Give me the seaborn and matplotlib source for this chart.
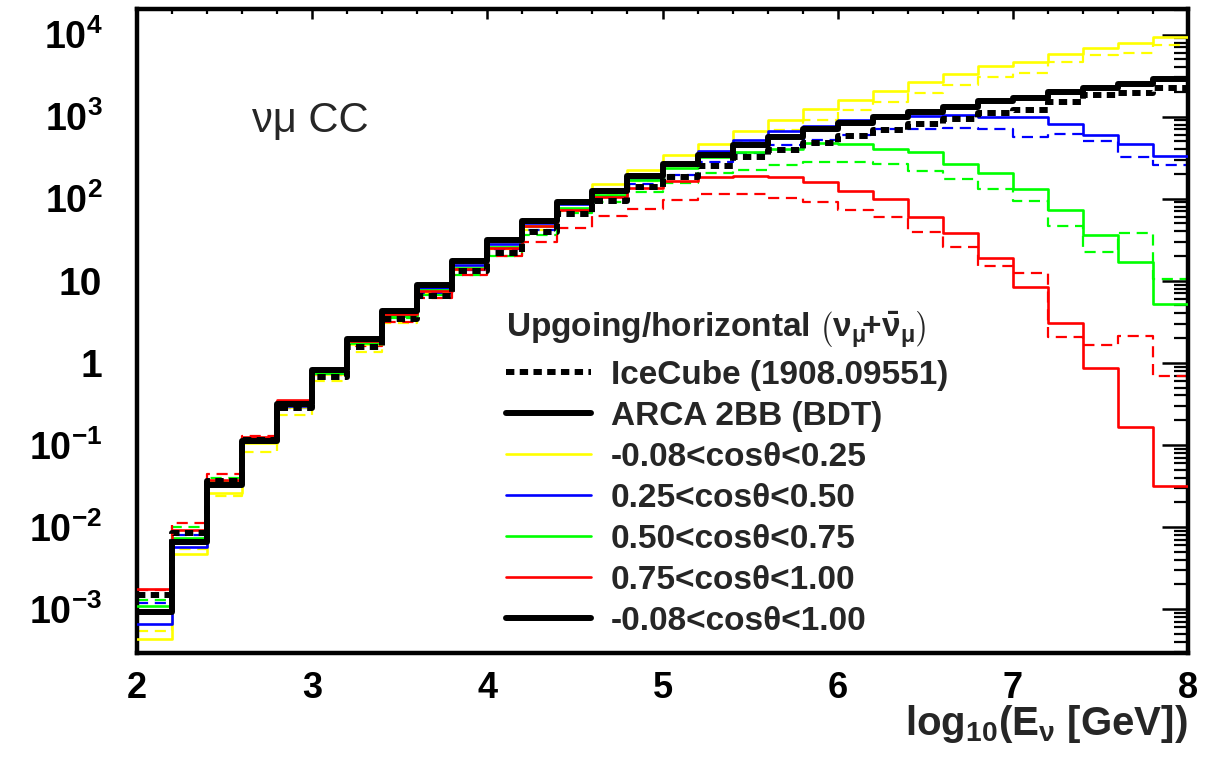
import numpy as np
import pandas as pd
import matplotlib
matplotlib.use("Agg")
import matplotlib.pyplot as plt
import seaborn as sns
from matplotlib.lines import Line2D
from matplotlib.ticker import FixedLocator, LogLocator, NullFormatter, MultipleLocator

# Energy binning: log10(E_nu / GeV), 0.2 wide bins from 2 to 8
bin_edges = [round(2.0 + 0.2 * i, 1) for i in range(31)]

# ARCA 2BB (BDT) selection, solid histograms
arca_all = [0.00092, 0.0066, 0.0325, 0.110, 0.313, 0.82, 1.95, 4.3, 8.9, 17.2,
            31.6, 54, 91, 125, 191, 267, 343, 454, 562, 703,
            830, 981, 1148, 1320, 1563, 1668, 2006, 2263, 2531, 2910]
arca_yellow = [0.00043, 0.0047, 0.026, 0.105, 0.288, 0.74, 1.7, 3.8, 8.0, 15.5,
               29, 55, 97, 152, 226, 337, 467, 671, 912, 1227,
               1592, 2065, 2652, 3280, 4100, 4630, 5840, 6900, 7850, 9290]
arca_blue = [0.00066, 0.0057, 0.034, 0.115, 0.30, 0.75, 1.8, 3.9, 8.2, 15.5,
             28, 50, 85, 120, 180, 265, 378, 513, 659, 771,
             912, 1000, 1019, 1048, 1000, 981, 815, 600, 462, 328]
arca_green = [0.0011, 0.0074, 0.036, 0.12, 0.31, 0.75, 1.75, 3.7, 7.8, 14.5,
              26, 46, 78, 112, 170, 237, 319, 367, 403, 476,
              462, 403, 369, 268, 207, 130, 72, 36, 16.7, 5.2]
arca_red = [0.00175, 0.0093, 0.0374, 0.126, 0.354, 0.80, 1.85, 3.9, 7.5, 14,
            25, 46, 73, 104, 135, 164, 183, 188, 185, 159,
            124, 98, 60, 38.6, 18.7, 8.5, 3.06, 0.87, 0.166, 0.032]

# IceCube (1908.09551), dashed histograms
icecube_all = [0.00148, 0.0085, 0.036, 0.115, 0.28, 0.68, 1.58, 3.45, 6.6, 13,
               21.7, 39, 65, 95, 138, 183, 248, 319, 395, 476,
               583, 690, 815, 937, 1117, 1205, 1518, 1828, 1915, 2203]
icecube_yellow = [0.00054, 0.0054, 0.024, 0.083, 0.232, 0.60, 1.37, 3.1, 7.1, 13.6,
                  24.3, 41.9, 70, 113, 164, 250, 340, 500, 690, 912,
                  1205, 1518, 1950, 2460, 3046, 3440, 4620, 5570, 6000, 7360]
icecube_blue = [0.00117, 0.008, 0.035, 0.115, 0.28, 0.73, 1.75, 3.67, 7.1, 13.6,
                24.3, 41.9, 73, 105, 149, 197, 278, 360, 454, 523,
                600, 703, 703, 723, 713, 562, 617, 499, 319, 255]
icecube_green = [0.0013, 0.0101, 0.040, 0.12, 0.29, 0.73, 1.75, 3.5, 6.8, 11.6,
                 19.8, 36, 67, 91, 120, 156, 207, 226, 260, 278,
                 278, 267, 217, 172, 132, 95, 47, 22.5, 38.6, 10.5]
icecube_red = [0.0017, 0.0113, 0.0443, 0.128, 0.33, 0.72, 1.6, 3.16, 6.2, 11.6,
               19.8, 30, 44, 62, 75.5, 96, 113, 113, 103, 92,
               73, 59, 39, 25.9, 15.2, 12.6, 2.09, 1.63, 2.15, 0.69]

zenith_labels = ["-0.08<cosθ<0.25", "0.25<cosθ<0.50", "0.50<cosθ<0.75",
                 "0.75<cosθ<1.00", "-0.08<cosθ<1.00"]
zenith_colors = ["#ffff00", "#0000ff", "#00ff00", "#ff0000", "#000000"]
legend_title = r"Upgoing/horizontal $\left(\nu_{\mu}\!\mathbf{+}\bar{\nu}_{\mu}\right)$"
legend_samples = ["IceCube (1908.09551)", "ARCA 2BB (BDT)"]

xtick_values = [2, 3, 4, 5, 6, 7, 8]
ytick_values = [1e-3, 1e-2, 1e-1, 1, 10, 1e2, 1e3, 1e4]
ytick_labels = [r"$\mathbf{10^{-3}}$", r"$\mathbf{10^{-2}}$", r"$\mathbf{10^{-1}}$",
                "1", "10", r"$\mathbf{10^{2}}$", r"$\mathbf{10^{3}}$", r"$\mathbf{10^{4}}$"]

sns.set_style("white")
plt.rcParams["font.family"] = ["Liberation Sans", "DejaVu Sans"]
plt.rcParams.update({
    "mathtext.fontset": "custom",
    "mathtext.rm": "Liberation Sans",
    "mathtext.it": "Liberation Sans",
    "mathtext.bf": "Liberation Sans:bold",
    "mathtext.sf": "Liberation Sans",
    "mathtext.default": "regular",
    "axes.linewidth": 3.2,
    "axes.edgecolor": "black",
})

fig = plt.figure(figsize=(12.19, 7.67), dpi=100)
fig.patch.set_facecolor("white")
ax = fig.add_axes([0.1124, 0.1486, 0.8622, 0.8397])

centers = [0.5 * (a + b) for a, b in zip(bin_edges[:-1], bin_edges[1:])]

def draw_hist(values, color, lw, ls, z):
    frame = pd.DataFrame({"logE": centers, "rate": values})
    sns.histplot(data=frame, x="logE", weights="rate", bins=bin_edges,
                 element="step", fill=False, color=color, linewidth=lw,
                 linestyle=ls, zorder=z, ax=ax)

colored_dash = (0, (5, 3))
arca_sets = [arca_yellow, arca_blue, arca_green, arca_red]
ice_sets = [icecube_yellow, icecube_blue, icecube_green, icecube_red]
for arca_vals, ice_vals, col in zip(arca_sets, ice_sets, zenith_colors[:4]):
    draw_hist(ice_vals, col, 1.6, colored_dash, 2)
    draw_hist(arca_vals, col, 1.9, "-", 3)

black_dots = (0, (1.4, 0.9))
draw_hist(icecube_all, "black", 4.3, black_dots, 4)
draw_hist(arca_all, "black", 4.3, "-", 5)

ax.set_yscale("log")
ax.set_xlim(2, 8)
ax.set_ylim(2.91e-4, 2.05e4)
ax.set_ylabel("")
ax.set_xlabel(r"log$_{\mathbf{10}}$(E$_{\nu}$ [GeV])", fontsize=29,
              fontweight="bold", loc="right", labelpad=-2)

ax.yaxis.set_major_locator(FixedLocator(ytick_values))
ax.set_yticklabels(ytick_labels)
ax.yaxis.set_minor_locator(LogLocator(base=10, subs=np.arange(2, 10), numticks=30))
ax.yaxis.set_minor_formatter(NullFormatter())
ax.xaxis.set_major_locator(FixedLocator(xtick_values))
ax.set_xticklabels([str(v) for v in xtick_values])
ax.xaxis.set_minor_locator(MultipleLocator(0.2))

ax.tick_params(which="both", direction="in", top=True, right=True, colors="black")
ax.tick_params(axis="y", which="major", length=18.5, width=1.8, pad=25, labelsize=28)
ax.tick_params(axis="y", which="minor", length=10, width=1.6)
ax.tick_params(axis="x", which="major", length=7, width=1.8, pad=13, labelsize=26)
ax.tick_params(axis="x", which="minor", length=3.6, width=1.6)
for lab in ax.get_xticklabels():
    lab.set_fontweight("bold")
for lab in ax.get_yticklabels():
    lab.set_fontweight("bold")
    if "$" in lab.get_text():
        lab.set_fontsize(27)
ax.grid(False)

ax.text(0.1094, 0.809, "νμ CC", transform=ax.transAxes, fontsize=30,
        va="baseline", ha="left")

handles = [Line2D([], [], color="black", lw=4.3, ls=black_dots),
           Line2D([], [], color="black", lw=4.3)]
handles += [Line2D([], [], color=c, lw=1.9) for c in zenith_colors[:4]]
handles += [Line2D([], [], color="black", lw=4.3)]
labels = legend_samples + zenith_labels
leg = ax.legend(handles, labels, title=legend_title, loc="upper left",
                bbox_to_anchor=(0.351, 0.533), frameon=False,
                prop={"weight": "bold", "size": 24},
                title_fontproperties={"weight": "bold", "size": 24},
                handlelength=2.55, handletextpad=0.6, labelspacing=0.3,
                alignment="left", borderpad=0, borderaxespad=0)

fig.savefig("out.png", dpi=100, facecolor="white")
